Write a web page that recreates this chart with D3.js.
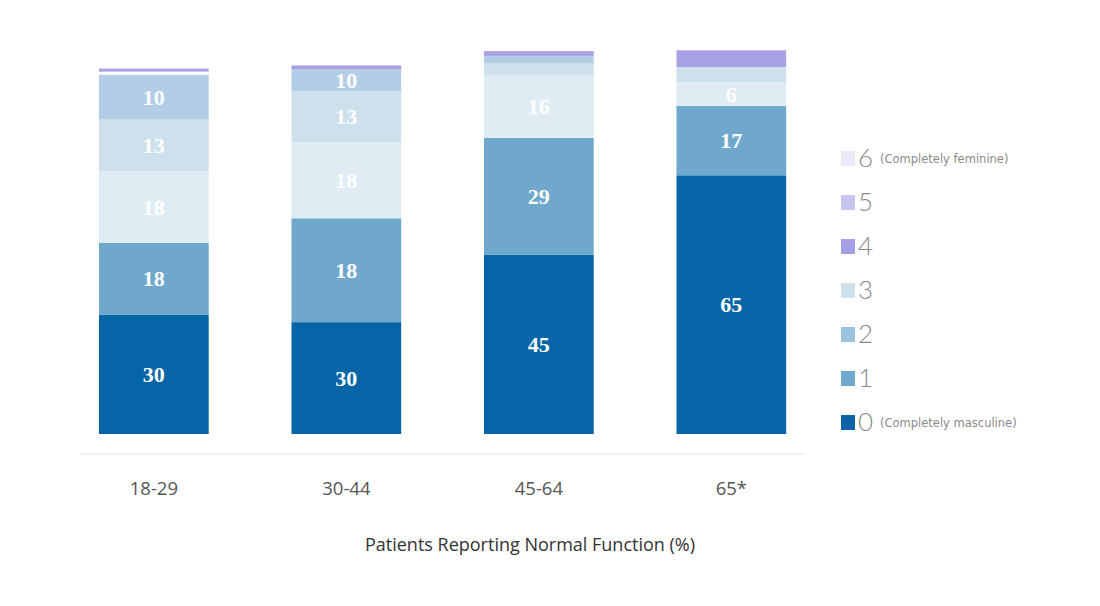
<!DOCTYPE html>
<html>
<head>
<meta charset="utf-8">
<script src="https://cdn.jsdelivr.net/npm/d3@7"></script>
<style>
  body { margin: 0; background: #fff; }
  svg { display: block; }
</style>
</head>
<body>
<div id="chart"></div>
<script>
// age groups along the x axis
const groups = ["18-29", "30-44", "45-64", "65*"];

// stacked segment heights (bottom to top)
const seg0 = [30, 28.1, 45, 65];
const seg1 = [18, 26.1, 29.4, 17.4];
const seg2 = [18, 19.1, 15.8, 6];
const seg3 = [13, 12.8, 3, 3.8];
const seg4 = [11.3, 5.5, 1.8, 0];
const seg5 = [0.75, 0, 0, 0];
const seg6 = [0.75, 1, 1.2, 4.2];

// printed labels inside the segments
const label0 = ["30", "30", "45", "65"];
const label1 = ["18", "18", "29", "17"];
const label2 = ["18", "18", "16", "6"];
const label3 = ["13", "13", "", ""];
const label4 = ["10", "10", "", ""];

const segColors = ["#0565a6", "#6fa8cc", "#e0ecf4", "#cde0eb", "#b2cde5", "#ffffff", "#a8a1e4"];

// legend
const legendKeys = ["6", "5", "4", "3", "2", "1", "0"];
const legendNotes = ["(Completely feminine)", "", "", "", "", "", "(Completely masculine)"];
const legendColors = ["#eaeaf8", "#c7c5f0", "#a59fe3", "#cfe1ea", "#9cc3dc", "#6fa8cc", "#0d63a5"];

const xTitle = "Patients Reporting Normal Function (%)";

const width = 1100, height = 606;
const baseY = 434;

const svg = d3.select("#chart").append("svg")
  .attr("width", width)
  .attr("height", height);

const x = d3.scaleBand()
  .domain(groups)
  .range([57.6, 827.6])
  .paddingInner(0.43)
  .paddingOuter(0.215);

const y = d3.scaleLinear()
  .domain([0, 100])
  .range([baseY, 36]);

const segs = [seg0, seg1, seg2, seg3, seg4, seg5, seg6];
const labels = [label0, label1, label2, label3, label4];

const rows = groups.map((g, i) => {
  const r = { group: g };
  segs.forEach((s, k) => (r["s" + k] = s[i]));
  return r;
});
const keys = segs.map((_, k) => "s" + k);
const series = d3.stack().keys(keys)(rows);

const layers = svg.append("g")
  .selectAll("g")
  .data(series)
  .join("g")
  .attr("fill", (d, k) => segColors[k]);

layers.selectAll("rect")
  .data(d => d)
  .join("rect")
  .attr("x", d => x(d.data.group))
  .attr("width", x.bandwidth())
  .attr("y", d => y(d[1]))
  .attr("height", d => y(d[0]) - y(d[1]));

// segment labels
const labelData = [];
series.forEach((s, k) => {
  if (!labels[k]) return;
  s.forEach((d, i) => {
    if (labels[k][i]) labelData.push({ group: d.data.group, mid: (d[0] + d[1]) / 2, text: labels[k][i] });
  });
});

svg.append("g")
  .selectAll("text")
  .data(labelData)
  .join("text")
  .attr("x", d => x(d.group) + x.bandwidth() / 2)
  .attr("y", d => y(d.mid))
  .attr("dy", "0.35em")
  .attr("text-anchor", "middle")
  .attr("fill", "#fff")
  .style("font-family", "'Liberation Serif', 'DejaVu Serif', serif")
  .style("font-weight", "bold")
  .style("font-size", "22px")
  .text(d => d.text);

// x axis
svg.append("line")
  .attr("x1", 81).attr("x2", 805)
  .attr("y1", 454).attr("y2", 454)
  .attr("stroke", "#e3e3e3")
  .attr("stroke-width", 1.2);

const xAxis = svg.append("g")
  .attr("transform", `translate(0,454)`)
  .call(d3.axisBottom(x).tickSize(0).tickPadding(28));
xAxis.select(".domain").remove();
xAxis.selectAll("text")
  .attr("fill", "#555")
  .style("font-family", "'Open Sans', sans-serif")
  .style("font-size", "18.5px");

svg.append("text")
  .attr("x", 530)
  .attr("y", 551)
  .attr("text-anchor", "middle")
  .attr("fill", "#333")
  .style("font-family", "'Open Sans', sans-serif")
  .style("font-size", "18px")
  .text(xTitle);

// legend
const leg = svg.append("g")
  .selectAll("g")
  .data(legendKeys)
  .join("g")
  .attr("transform", (d, i) => `translate(841,${151 + i * 44})`);

leg.append("rect")
  .attr("width", 14)
  .attr("height", 15)
  .attr("fill", (d, i) => legendColors[i]);

leg.append("text")
  .attr("x", 17)
  .attr("y", 16)
  .attr("fill", "#8a8a8a")
  .style("font-family", "Lato, sans-serif")
  .style("font-weight", 300)
  .style("font-size", "26px")
  .text(d => d);

leg.append("text")
  .attr("x", 39)
  .attr("y", 12)
  .attr("fill", "#8a8a8a")
  .style("font-family", "'DejaVu Sans', sans-serif")
  .style("font-size", "11.5px")
  .text((d, i) => legendNotes[i]);
</script>
</body>
</html>
